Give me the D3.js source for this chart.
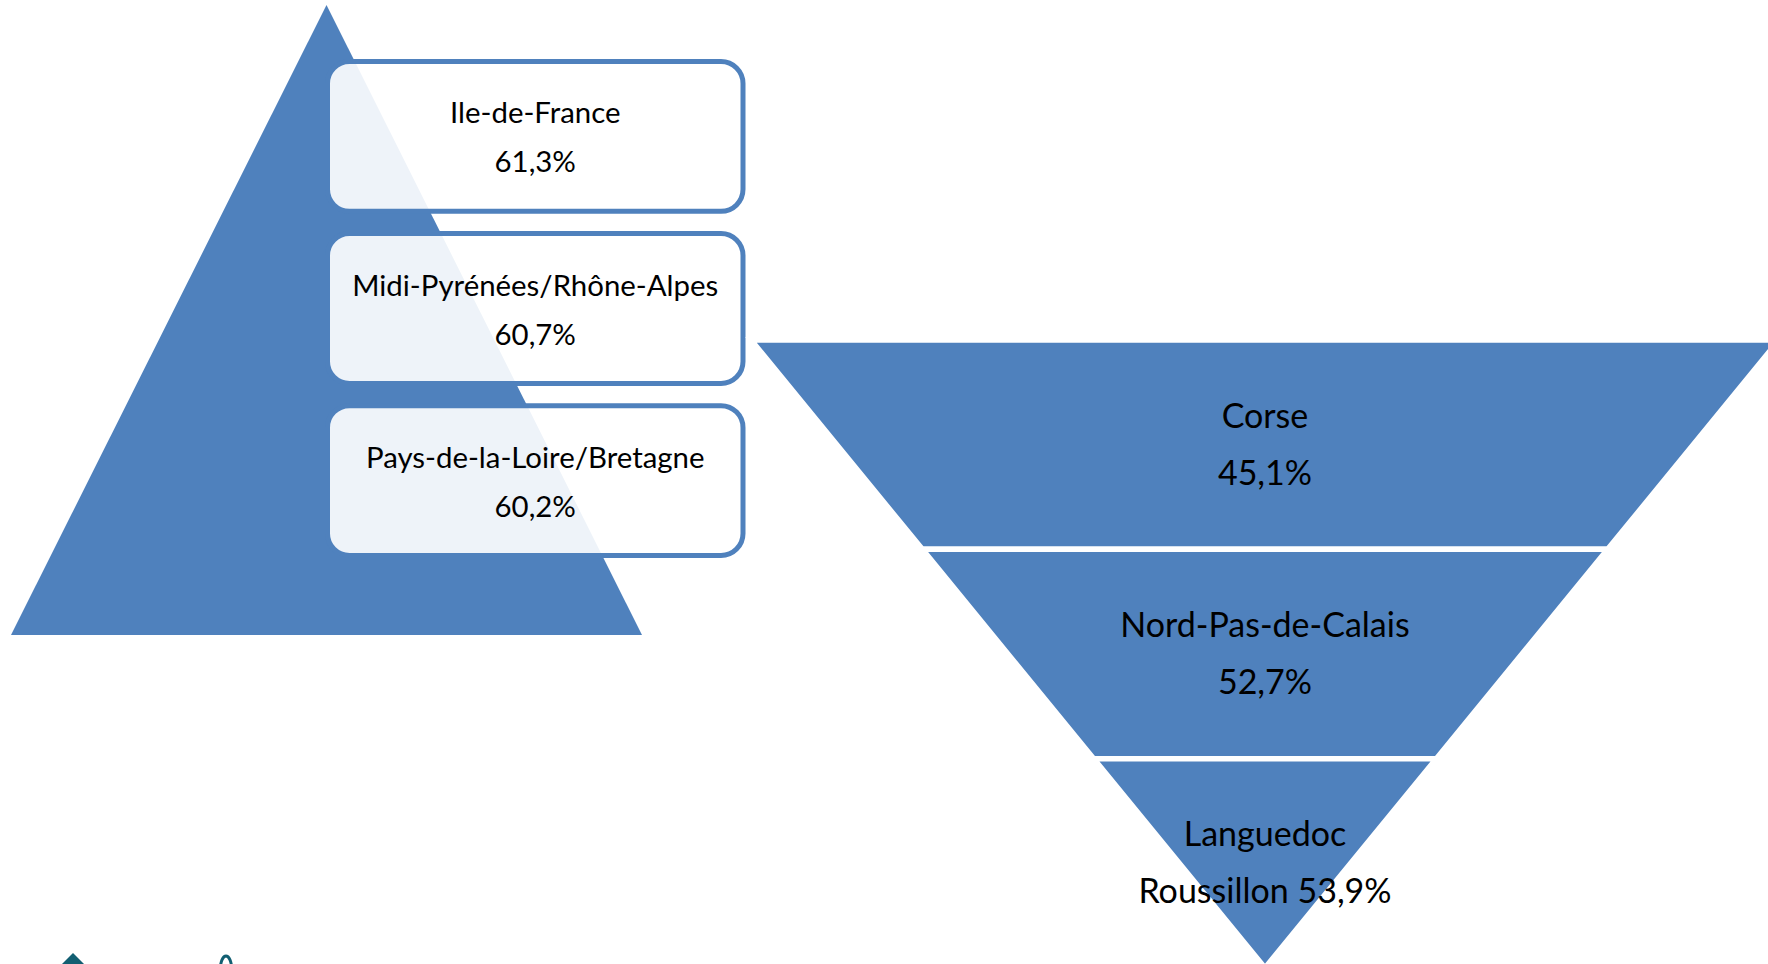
<!DOCTYPE html>
<html>
<head>
<meta charset="utf-8">
<script src="https://cdn.jsdelivr.net/npm/d3@7"></script>
<style>
  html, body { margin: 0; padding: 0; background: #fff; overflow: hidden; }
  svg { display: block; }
</style>
</head>
<body>
<div class="chart"></div>
<script>
// top 3 regions (pyramid) and bottom 3 regions (inverted pyramid)
const topRegions = ['Ile-de-France', 'Midi-Pyrénées/Rhône-Alpes', 'Pays-de-la-Loire/Bretagne'];
const topValues = [61.3, 60.7, 60.2];

const bottomRegions = ['Corse', 'Nord-Pas-de-Calais', 'Languedoc\nRoussillon'];
const bottomValues = [45.1, 52.7, 53.9];

const width = 1768;
const height = 964;
const blue = '#4F81BD';
const fontFamily = 'Lato, "Open Sans", sans-serif';

const fr = d3.formatLocale({ decimal: ',', thousands: ' ', grouping: [3], currency: ['', ' €'] });
const pct = (v) => fr.format('.1f')(v) + '%';

const svg = d3
  .select('.chart')
  .append('svg')
  .attr('width', width)
  .attr('height', height);

// ---- left pyramid ----
const pyrY = d3.scaleLinear().domain([0, 1]).range([5, 635]);
const pyrHalf = d3.scaleLinear().domain([0, 1]).range([0, 315.5]);
const pyrCx = 326.5;

svg
  .append('path')
  .attr('d', d3.line()([
    [pyrCx, pyrY(0)],
    [pyrCx + pyrHalf(1), pyrY(1)],
    [pyrCx - pyrHalf(1), pyrY(1)],
  ]) + 'Z')
  .attr('fill', blue);

const boxY = d3.scaleBand().domain(topRegions).range([59, 558]).paddingInner(0.1);
const boxX0 = 327.5;
const boxX1 = 743;

const boxes = svg
  .selectAll('g.box')
  .data(topRegions)
  .join('g')
  .attr('class', 'box');

boxes
  .append('rect')
  .attr('x', boxX0)
  .attr('y', (d) => boxY(d) + 2.5)
  .attr('width', boxX1 - boxX0)
  .attr('height', boxY.bandwidth() - 5)
  .attr('rx', 22)
  .attr('ry', 22)
  .attr('fill', '#fff')
  .attr('fill-opacity', 0.9)
  .attr('stroke', blue)
  .attr('stroke-width', 5);

boxes
  .append('text')
  .attr('x', (boxX0 + boxX1) / 2)
  .attr('y', (d) => boxY(d) + boxY.bandwidth() / 2 - 13)
  .attr('text-anchor', 'middle')
  .attr('font-family', fontFamily)
  .attr('font-size', 29.4)
  .attr('fill', '#000')
  .text((d) => d);

boxes
  .append('text')
  .attr('x', (boxX0 + boxX1) / 2)
  .attr('y', (d) => boxY(d) + boxY.bandwidth() / 2 + 36)
  .attr('text-anchor', 'middle')
  .attr('font-family', fontFamily)
  .attr('font-size', 29.4)
  .attr('fill', '#000')
  .text((d, i) => pct(topValues[i]));

// ---- right inverted pyramid ----
const funY = d3.scaleLinear().domain([0, bottomRegions.length]).range([340, 968]);
const funHalf = d3.scaleLinear().domain([340, 968]).range([514, 0]);
const funCx = 1265;

const segs = svg
  .selectAll('g.seg')
  .data(bottomRegions)
  .join('g')
  .attr('class', 'seg');

segs
  .append('path')
  .attr('d', (d, i) => {
    const y0 = funY(i);
    const y1 = funY(i + 1);
    return d3.line()([
      [funCx - funHalf(y0), y0],
      [funCx + funHalf(y0), y0],
      [funCx + funHalf(y1), y1],
      [funCx - funHalf(y1), y1],
    ]) + 'Z';
  })
  .attr('fill', blue)
  .attr('stroke', '#fff')
  .attr('stroke-width', 5.5)
  .attr('stroke-linejoin', 'miter');

segs.each(function (d, i) {
  const lines = d.split('\n');
  if (lines.length > 1) lines[lines.length - 1] += ' ' + pct(bottomValues[i]);
  else lines.push(pct(bottomValues[i]));
  const cy = (funY(i) + funY(i + 1)) / 2;
  d3.select(this)
    .selectAll('text')
    .data(lines)
    .join('text')
    .attr('x', funCx)
    .attr('y', (t, j) => cy - 17 + j * 57)
    .attr('text-anchor', 'middle')
    .attr('font-family', fontFamily)
    .attr('font-size', 34)
    .attr('fill', '#000')
    .text((t) => t);
});

// ---- partial logo at bottom-left ----
const logo = svg.append('g').attr('fill', '#125F72').attr('stroke', '#125F72');
logo
  .append('path')
  .attr('d', d3.line()([[73, 953], [95, 975], [73, 997], [51, 975]]) + 'Z')
  .attr('stroke', 'none');
logo
  .append('ellipse')
  .attr('cx', 226)
  .attr('cy', 968)
  .attr('rx', 5.5)
  .attr('ry', 12)
  .attr('fill', 'none')
  .attr('stroke-width', 3);
</script>
</body>
</html>
